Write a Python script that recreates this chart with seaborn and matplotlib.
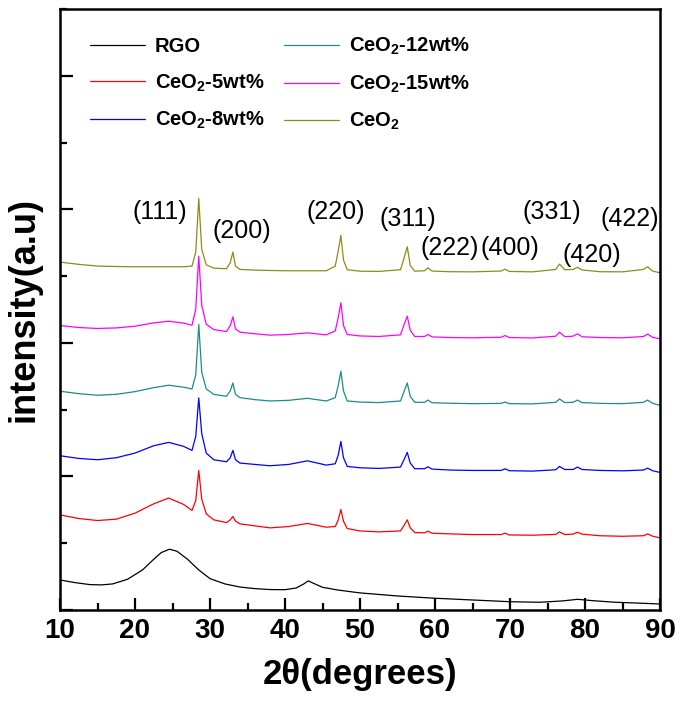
import matplotlib
matplotlib.use('Agg')
import matplotlib.pyplot as plt
from matplotlib.ticker import MultipleLocator
import pandas as pd
import seaborn as sns

# 2theta grid used for the CeO2-containing samples
x_ceo2 = [10, 12.5, 15, 17.5, 20, 22.5, 24.5, 26.5, 27.6, 28.1, 28.5, 28.9, 29.5, 30.5,
          32.2, 32.7, 33.05, 33.4, 34, 36, 38, 40.5, 43, 45.5, 46.7, 47.1, 47.45, 47.8,
          48.3, 50, 52.5, 55.4, 55.9, 56.3, 56.7, 57.3, 58.6, 59.05, 59.6, 62, 65, 68.8,
          69.35, 69.9, 73, 76.1, 76.6, 77.3, 78.4, 79.0, 79.6, 82, 85, 87.8, 88.35, 89, 90]

# RGO curve
x_rgo = [10, 12, 14, 15.5, 17, 19, 21, 22.5, 23.5, 24.6, 25.6, 27, 28.5, 30, 32, 34, 36,
         38, 40, 41.5, 42.5, 43.1, 43.8, 45, 47, 50, 55, 60, 65, 70, 74, 77, 79, 81, 84, 87, 90]
y_rgo = [0.225, 0.205, 0.190, 0.188, 0.195, 0.230, 0.300, 0.380, 0.430, 0.455, 0.440, 0.380,
         0.300, 0.235, 0.195, 0.172, 0.160, 0.153, 0.152, 0.165, 0.195, 0.218, 0.200, 0.170,
         0.150, 0.128, 0.105, 0.088, 0.075, 0.062, 0.058, 0.068, 0.080, 0.070, 0.058, 0.052, 0.045]

y_5wt = [0.712, 0.685, 0.670, 0.680, 0.725, 0.795, 0.838, 0.790, 0.745, 0.820, 1.045, 0.830,
         0.720, 0.675, 0.655, 0.675, 0.700, 0.665, 0.645, 0.630, 0.615, 0.625, 0.648, 0.620,
         0.625, 0.675, 0.752, 0.665, 0.610, 0.592, 0.585, 0.592, 0.635, 0.675, 0.615, 0.580,
         0.578, 0.590, 0.575, 0.570, 0.565, 0.565, 0.575, 0.562, 0.560, 0.566, 0.585, 0.565,
         0.568, 0.582, 0.568, 0.556, 0.552, 0.556, 0.570, 0.553, 0.540]

y_8wt = [1.155, 1.135, 1.125, 1.140, 1.175, 1.230, 1.255, 1.225, 1.195, 1.300, 1.588, 1.320,
         1.175, 1.125, 1.110, 1.140, 1.195, 1.125, 1.100, 1.090, 1.080, 1.090, 1.117, 1.085,
         1.095, 1.160, 1.262, 1.140, 1.075, 1.065, 1.060, 1.070, 1.130, 1.180, 1.100, 1.058,
         1.058, 1.072, 1.055, 1.048, 1.045, 1.045, 1.057, 1.043, 1.040, 1.050, 1.075, 1.052,
         1.052, 1.070, 1.052, 1.045, 1.042, 1.048, 1.062, 1.043, 1.030]

y_12wt = [1.638, 1.620, 1.608, 1.615, 1.635, 1.665, 1.683, 1.668, 1.655, 1.760, 2.138, 1.780,
          1.655, 1.615, 1.600, 1.640, 1.700, 1.615, 1.590, 1.575, 1.565, 1.570, 1.585, 1.565,
          1.590, 1.680, 1.788, 1.640, 1.565, 1.557, 1.553, 1.565, 1.640, 1.700, 1.600, 1.555,
          1.555, 1.572, 1.552, 1.548, 1.545, 1.547, 1.557, 1.545, 1.543, 1.555, 1.580, 1.553,
          1.555, 1.572, 1.553, 1.547, 1.545, 1.555, 1.572, 1.548, 1.532]

y_15wt = [2.130, 2.115, 2.108, 2.112, 2.125, 2.150, 2.162, 2.148, 2.132, 2.250, 2.650, 2.280,
          2.140, 2.100, 2.085, 2.130, 2.195, 2.105, 2.080, 2.068, 2.058, 2.063, 2.075, 2.060,
          2.090, 2.190, 2.300, 2.130, 2.063, 2.052, 2.048, 2.060, 2.140, 2.200, 2.095, 2.048,
          2.048, 2.063, 2.045, 2.040, 2.038, 2.042, 2.055, 2.040, 2.037, 2.050, 2.080, 2.047,
          2.050, 2.068, 2.046, 2.040, 2.038, 2.048, 2.066, 2.042, 2.030]

y_ceo2 = [2.605, 2.588, 2.575, 2.572, 2.570, 2.570, 2.570, 2.570, 2.575, 2.680, 3.083, 2.700,
          2.585, 2.560, 2.555, 2.600, 2.680, 2.575, 2.550, 2.545, 2.542, 2.540, 2.540, 2.540,
          2.575, 2.690, 2.805, 2.620, 2.548, 2.537, 2.535, 2.548, 2.640, 2.720, 2.580, 2.537,
          2.540, 2.562, 2.538, 2.533, 2.532, 2.538, 2.552, 2.535, 2.532, 2.550, 2.590, 2.548,
          2.550, 2.566, 2.546, 2.533, 2.532, 2.550, 2.570, 2.538, 2.525]

samples = ['RGO', 'CeO$_2$-5wt%', 'CeO$_2$-8wt%', 'CeO$_2$-12wt%', 'CeO$_2$-15wt%', 'CeO$_2$']
colors = ['#000000', '#FF0000', '#0000FF', '#1A8C8C', '#FF00FF', '#8C8C1A']

# 晶面标注
hkl_labels = ['(111)', '(200)', '(220)', '(311)', '(222)', '(400)', '(331)', '(420)', '(422)']
hkl_x = [23.3, 34.3, 46.8, 56.4, 61.9, 70.0, 75.6, 80.9, 86.0]
hkl_y = [2.98, 2.84, 2.98, 2.93, 2.71, 2.71, 2.98, 2.66, 2.93]

frames = [pd.DataFrame({'x': x_rgo, 'y': y_rgo, 'sample': samples[0]})]
for name, ys in zip(samples[1:], [y_5wt, y_8wt, y_12wt, y_15wt, y_ceo2]):
    frames.append(pd.DataFrame({'x': x_ceo2, 'y': ys, 'sample': name}))
df = pd.concat(frames, ignore_index=True)

sns.set_style('ticks')
plt.rcParams['font.family'] = ['Liberation Sans', 'DejaVu Sans']
plt.rcParams['mathtext.fontset'] = 'custom'
plt.rcParams['mathtext.rm'] = 'Liberation Sans:bold'
plt.rcParams['mathtext.bf'] = 'Liberation Sans:bold'
plt.rcParams['mathtext.default'] = 'rm'
# 全部文字/坐标轴用纯黑
for key in ['text.color', 'axes.labelcolor', 'xtick.color', 'ytick.color', 'axes.edgecolor']:
    plt.rcParams[key] = 'black'

fig = plt.figure(figsize=(6.85, 7.07), dpi=100)
ax = fig.add_axes([60 / 685, 97 / 707, 600 / 685, 601 / 707])

sns.lineplot(data=df, x='x', y='y', hue='sample', hue_order=samples,
             palette=colors, estimator=None, sort=False, linewidth=0.9, ax=ax)

for lab, hx, hy in zip(hkl_labels, hkl_x, hkl_y):
    ax.text(hx, hy, lab, fontsize=18, ha='center', va='center', color='black')

ax.set_xlim(10, 90)
ax.set_ylim(0, 4.5)
ax.xaxis.set_major_locator(MultipleLocator(10))
ax.xaxis.set_minor_locator(MultipleLocator(5))
ax.yaxis.set_major_locator(MultipleLocator(1))
ax.yaxis.set_minor_locator(MultipleLocator(0.5))
ax.tick_params(which='major', direction='in', length=9, width=1.6, labelsize=20, pad=6)
ax.tick_params(which='minor', direction='in', length=5, width=1.6)
ax.tick_params(axis='y', labelleft=False)
for lab in ax.get_xticklabels():
    lab.set_fontweight('bold')
for sp in ax.spines.values():
    sp.set_linewidth(1.8)
    sp.set_color('black')

ax.set_xlabel('2θ(degrees)', fontsize=25, fontweight='bold', labelpad=10)
ax.set_ylabel('intensity(a.u)', fontsize=26, fontweight='bold', labelpad=10)

ax.legend(loc='upper left', bbox_to_anchor=(0.02, 0.985), ncol=2, frameon=False,
          prop={'weight': 'bold', 'size': 14.5}, handlelength=2.7, handletextpad=0.5,
          labelspacing=0.8, columnspacing=1.0)

plt.savefig('out.png', dpi=100)
